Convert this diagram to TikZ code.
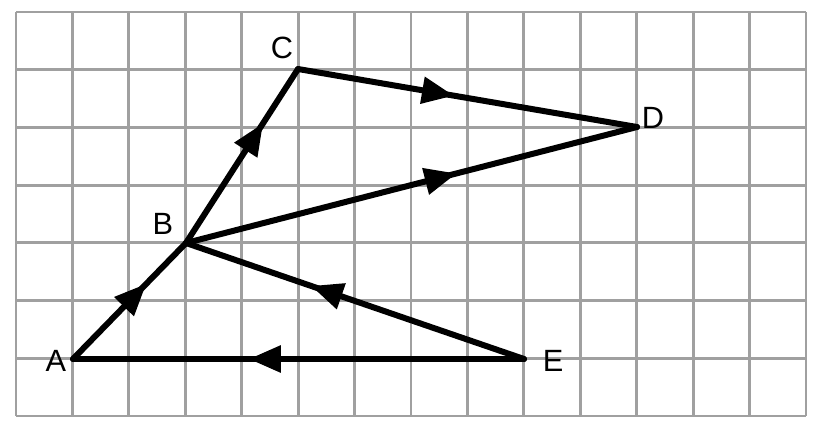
\documentclass[tikz,border=0pt]{standalone}
\usepackage{fontspec}
\setmainfont{Liberation Sans}
\usetikzlibrary{arrows.meta,decorations.markings}
\tikzset{
  gridline/.style={draw={rgb,255:red,160;green,160;blue,160}, line width=0.056cm},
  edge/.style={draw=black, line width=0.12cm, line cap=round},
  midarrow/.style={postaction={decorate, decoration={markings,
      mark=at position #1 with {\arrow{Triangle[length=0.64cm,width=0.52cm]}}}}},
  ptlabel/.style={font=\fontsize{17.5}{17.5}\selectfont, inner sep=0pt}
}
\begin{document}
\begin{tikzpicture}[x=0.02cm,y=-0.02cm]
  \useasboundingbox (0,0) rectangle (828,433);
  \fill[white] (0,0) rectangle (828,433);
  % grid
  \foreach \i in {0,...,14}
    \draw[gridline] ({16+56.43*\i},12) -- ({16+56.43*\i},416);
  \foreach \j in {0,...,7}
    \draw[gridline] (16,{12+57.71*\j}) -- (806,{12+57.71*\j});
  % points
  \coordinate (A) at (73,359);
  \coordinate (B) at (186,243);
  \coordinate (C) at (298,69);
  \coordinate (D) at (637,127);
  \coordinate (E) at (524,359);
  % edges
  \draw[edge, midarrow=0.65] (A) -- (B);
  \draw[edge, midarrow=0.69] (B) -- (C);
  \draw[edge, midarrow=0.46] (C) -- (D);
  \draw[edge, midarrow=0.60] (B) -- (D);
  \draw[edge, midarrow=0.63] (E) -- (B);
  \draw[edge, midarrow=0.61] (E) -- (A);
  % labels
  \node[ptlabel] (lA) at (56,361) {A};
  \node[ptlabel] (lB) at (163,224) {B};
  \node[ptlabel] (lC) at (282,48) {C};
  \node[ptlabel] (lD) at (653,118) {D};
  \node[ptlabel] (lE) at (553,361) {E};
\end{tikzpicture}
\end{document}
